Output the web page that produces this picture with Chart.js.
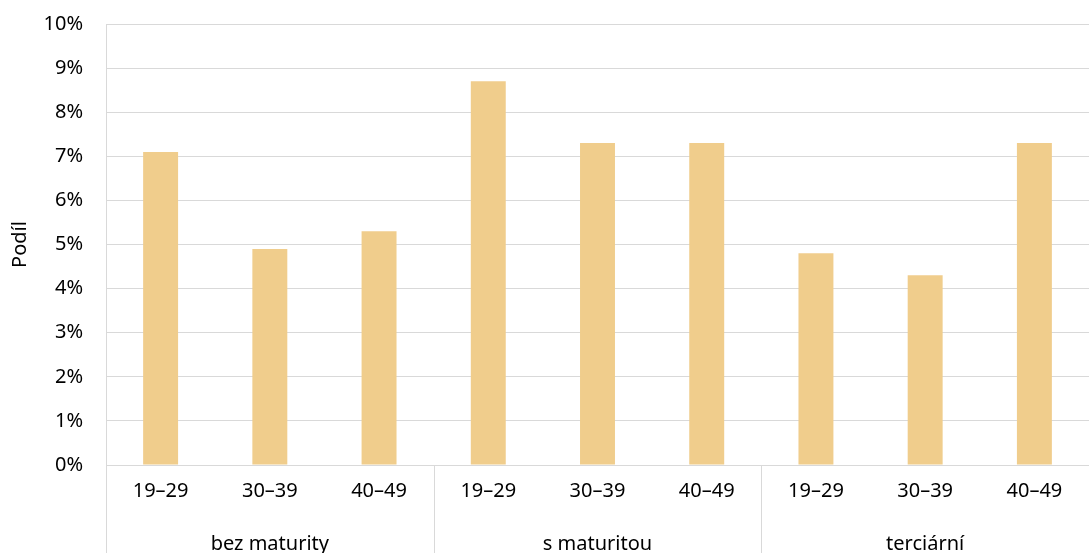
<!DOCTYPE html>
<html>
<head>
<meta charset="utf-8">
<script src="https://cdn.jsdelivr.net/npm/chart.js@4"></script>
<style>
  html, body { margin: 0; padding: 0; background: #fff; }
  #wrap { width: 1089px; height: 553px; }
</style>
</head>
<body>
<div id="wrap"><canvas id="graf"></canvas></div>
<script>
var vekoveSkupiny = ["19–29", "30–39", "40–49", "19–29", "30–39", "40–49", "19–29", "30–39", "40–49"];
var vzdelani = ["bez maturity", "s maturitou", "terciární"];
var podil = [7.1, 4.9, 5.3, 8.7, 7.3, 7.3, 4.8, 4.3, 7.3];
var yTicky = [0, 1, 2, 3, 4, 5, 6, 7, 8, 9, 10];

var sedaCara = "#d9d9d9";
var pismo = { family: "'Noto Sans', sans-serif", size: 20 };

// svisle oddelovace skupin pod osou x
var oddelovace = {
    id: "oddelovace",
    afterDraw: function(chart) {
        var x = chart.scales.x;
        var ctx = chart.ctx;
        var sirka = x.getPixelForValue(1) - x.getPixelForValue(0);
        ctx.save();
        ctx.strokeStyle = sedaCara;
        ctx.lineWidth = 1;
        for (var i = 0; i < vekoveSkupiny.length; i += 3) {
            var px = Math.round(x.getPixelForValue(i) - sirka / 2) + 0.5;
            ctx.beginPath();
            ctx.moveTo(px, chart.chartArea.bottom);
            ctx.lineTo(px, chart.height);
            ctx.stroke();
        }
        ctx.restore();
    }
};

var ctx = document.getElementById("graf");

var config = {
    type: "bar",
    data: {
        labels: vekoveSkupiny,
        datasets: [{
            label: "Podíl",
            data: podil,
            backgroundColor: "#f0cd8c",
            barPercentage: 0.32,
            categoryPercentage: 1
        }]
    },
    options: {
        responsive: true,
        maintainAspectRatio: false,
        animation: false,
        layout: { padding: 0 },
        plugins: {
            legend: { display: false },
            tooltip: { enabled: false }
        },
        scales: {
            x: {
                grid: { display: false },
                border: { display: false },
                ticks: { color: "#000", font: pismo, padding: 6, maxRotation: 0 }
            },
            x2: {
                type: "category",
                labels: vzdelani,
                position: "bottom",
                offset: true,
                afterFit: function(axis) {
                    axis.height = axis.height - 18;
                },
                grid: { display: false },
                border: { display: false },
                ticks: { color: "#000", font: pismo, padding: 15, maxRotation: 0 }
            },
            y: {
                min: 0,
                max: 10,
                afterBuildTicks: function(axis) {
                    axis.ticks = yTicky.map(function(v) { return { value: v }; });
                },
                afterFit: function(axis) {
                    axis.width = 106;
                    axis.paddingTop = 24;
                    axis.paddingBottom = 12;
                },
                grid: { color: sedaCara, drawTicks: false },
                border: { color: sedaCara },
                ticks: {
                    color: "#000",
                    font: pismo,
                    padding: 23,
                    callback: function(v) { return v + "%"; }
                },
                title: {
                    display: true,
                    text: "Podíl",
                    color: "#000",
                    font: pismo,
                    padding: 8
                }
            }
        }
    },
    plugins: [oddelovace]
};

var chart = new Chart(ctx, config);
</script>
</body>
</html>
